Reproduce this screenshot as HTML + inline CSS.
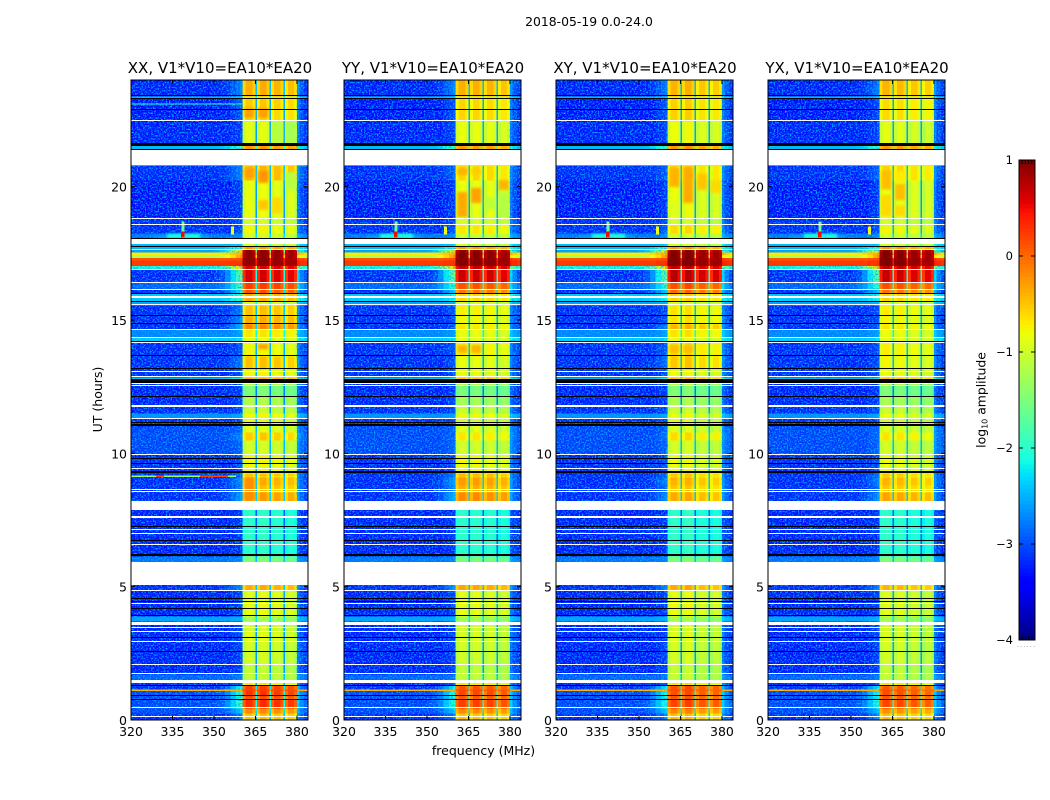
<!DOCTYPE html>
<html>
<head>
<meta charset="utf-8">
<title>2018-05-19 spectrogram</title>
<style>
html,body{margin:0;padding:0;background:#fff;}
svg{display:block;font-family:"DejaVu Sans","Liberation Sans",sans-serif;}
text{fill:#000;}
</style>
</head>
<body>
<svg id="chart" width="1050" height="800" viewBox="0 0 1050 800" xmlns="http://www.w3.org/2000/svg">
<defs>
<filter id="speckle" x="0" y="0" width="100%" height="100%" color-interpolation-filters="sRGB">
<feTurbulence type="fractalNoise" baseFrequency="0.62" numOctaves="2" seed="5"/>
<feColorMatrix type="matrix" values="0 0 0 0 0  0 0 0 0 0.7  0 0 0 0 1  3.4 0 0 0 -1.55"/>
</filter>
<filter id="soften" x="-20%" y="-20%" width="140%" height="140%" color-interpolation-filters="sRGB">
<feGaussianBlur stdDeviation="1.4"/>
</filter>
</defs>
</svg>
<script>
// ---- data ----
const panelNames = ["XX", "YY", "XY", "YX"];
const titleSuffix = ", V1*V10=EA10*EA20";
const xTicks = [320, 335, 350, 365, 380];
const yTicks = [0, 5, 10, 15, 20];
const colorTicks = [1, 0, -1, -2, -3, -4];

// frequency channels (MHz) - last entry closes the final channel
const channelEdges = [320,322,324,326,328,330,332,334,336,338,340,342,344,346,348,350,352,354,356,358,359.5,
  360.4,361.4,364,365, 365.6,366.6,369,370.1, 370.7,371.7,374,375.1, 375.7,376.7,379, 380,381,382.5,384];
// how much of the band level leaks into each channel
const channelWeight = [0,0,0,0,0,0,0,0,0,0,0,0,0,0,0,0,0,0,0.03,0.05,0.08,
  0.92,1,0.94,0.3, 0.92,1,0.94,0.3, 0.92,1,0.94,0.3, 0.92,1,0.94, 0.2,0.1,0.04];
const channelGlow = [0,0,0,0,0,0,0,0,0,0,0,0,0,0,0,0.05,0.15,0.4,0.7,0.95,1.1,
  0,0,0,0, 0,0,0,0, 0,0,0,0, 0,0,0, 0.15,0.04,0];
const channelSub = [0,0,0,0,0,0,0,0,0,0,0,0,0,0,0,0,0,0,0,0,0,
  1,1,1,0, 2,2,2,0, 3,3,3,0, 4,4,4, 0,0,0];
const subOffsetXX = [0.03, 0.05, 0, -0.05];
const subOffsetYY = [0.03, 0.03, 0, -0.08];
const subOffsetXY = [0.05, 0.08, -0.05, -0.08];
const subOffsetYX = [0.05, 0.03, -0.05, -0.1];

// time rows (UT hours, start of each row)
const rowStart = [0,.25,.45,.79,.90,1.09,1.14,1.29,1.50,1.72,
  2.10,2.55,2.96,3.30,3.71,3.90,4.35,4.84,5.94,6.15,
  8.22,8.55,8.81,9.11,9.17,9.26,9.94,10.5,10.8,11.02,
  11.33,11.51,11.81,12.11,12.53,12.79,12.86,13.16,13.65,14.18,
  14.36,14.63,14.85,15.15,15.56,15.71,15.98,16.13,16.39,16.88,
  17.03,17.25,17.33,17.44,17.53,17.63,17.74,18.04,18.26,18.56,
  18.79,20.25,20.78,21.41,21.64,22.46,22.88,23.29,23.39];
const rowEndHour = 24;
// off-band background level per row (log10 amplitude)
const rowBg = [-3.25,-3.1,-3.1,-3.1,-3.1,-.4,-3.25,-3.25,-2.95,-3.3,
  -3.3,-3.3,-3.3,-3.3,-2.6,-3.3,-3.3,-3.25,-2.85,-3.3,
  -3.25,-3.25,-3.25,-3.25,-3.25,-3.25,-3.1,-3.1,-3.1,-3.25,
  -2.7,-3.25,-3.3,-3.3,-3.25,-2.45,-3.25,-3.25,-3.25,-2.35,
  -2.75,-3.25,-3.25,-3.25,-2.6,-2.35,-3.25,-2.95,-3.25,-2.1,
  .25,.1,-1.2,-.7,-2.6,-2.45,-2.45,-2.85,-3.25,-3.25,
  -3.35,-3.25,-2.45,-2.45,-3.3,-3.35,-3.35,-2.45,-3.3];
// in-band level per row, per polarisation
const bandXX = [-.5,-.2,.3,.1,.25,.2,.2,-.7,-1.1,-1.1,
  -1,-1,-.9,-1,-1.3,-.85,-.9,-.4,-1.5,-2,
  -.3,-.5,-.4,-.6,-.5,-.8,-1,-.55,-.9,-.9,
  -.8,-1.05,-1.2,-1.5,-1.2,-.4,-.8,-.5,-.8,-.9,
  -.7,-.2,-.4,-.5,-1,-.4,.1,.2,.6,.6,
  .9,.9,.9,.9,.9,-.3,-1,-1,-.8,-1,
  -.85,-.45,-1,-.3,-.9,-.6,-.55,-1,-.4];
const bandYY = [-.5,-.2,.2,.05,.15,.15,.1,-.7,-1.1,-1.1,
  -1,-1,-.95,-1,-1.3,-.85,-.9,-.35,-1.5,-2,
  -.2,-.4,-.3,-.5,-.45,-.8,-1,-.7,-.9,-.95,
  -.8,-1.05,-1.25,-1.5,-1.2,-.5,-.85,-.85,-.75,-.9,
  -.85,-.7,-.8,-.75,-1,-.6,-.1,.1,.65,.7,
  .95,.95,.95,.95,.9,-.3,-1,-1,-.7,-.95,
  -.85,-.6,-1,-.3,-.85,-.6,-.6,-1,-.4];
const bandXY = [-.5,-.2,.15,.05,.1,.1,.1,-.7,-1.1,-1.1,
  -1,-1,-.95,-1,-1.3,-.85,-.9,-.4,-1.5,-2,
  -.4,-.55,-.45,-.6,-.55,-.85,-1,-.65,-.95,-.95,
  -.85,-1.05,-1.25,-1.5,-1.2,-.5,-.85,-.55,-.65,-.9,
  -.7,-.45,-.7,-.7,-1,-.6,-.05,.1,.7,.7,
  .95,.95,.95,.95,.9,-.3,-1,-1,-.65,-1,
  -.85,-.6,-1,-.3,-.85,-.6,-.6,-1,-.45];
const bandYX = [-.5,-.25,.15,.05,.1,.1,.05,-.7,-1.1,-1.1,
  -1,-1,-.95,-1,-1.3,-.9,-.95,-.45,-1.5,-2,
  -.35,-.55,-.45,-.6,-.55,-.85,-1,-.7,-.95,-.95,
  -.85,-1.05,-1.25,-1.5,-1.2,-.55,-.85,-.8,-.75,-.9,
  -.85,-.7,-.8,-.75,-1,-.6,-.1,.1,.65,.7,
  .95,.95,.95,.95,.9,-.3,-1,-1,-.8,-1,
  -.85,-.6,-1,-.3,-.9,-.65,-.65,-1,-.45];

// flagged (black) and missing (white) time ranges, UT hours
const flagStart = [.77,.90,1.27,2.56,3.10,3.91,4.16,4.44,4.56,6.16,6.72,7.24,9.26,9.61,9.78,11.03,11.16,12.13,12.65,13.17,13.66,14.20,14.85,15.17,15.70,15.98,17.74,18.06,21.38,21.54,22.88,23.28,23.39];
const flagEnd   = [.80,.93,1.30,2.59,3.13,3.94,4.19,4.47,4.59,6.22,6.75,7.27,9.34,9.64,9.81,11.10,11.19,12.16,12.79,13.20,13.69,14.23,14.88,15.20,15.73,16.01,17.77,18.09,21.41,21.62,22.91,23.31,23.42];
const gapStart = [.10,.45,1.40,1.72,2.07,2.95,3.32,3.46,3.56,4.37,4.86,5.06,6.57,7.00,7.15,7.58,7.87,8.56,8.62,9.40,9.96,11.29,11.73,11.79,12.53,12.62,12.86,13.05,14.16,14.34,14.62,15.57,15.83,16.13,16.38,16.90,17.63,17.85,18.57,18.79,20.81,22.48];
const gapEnd   = [.14,.48,1.50,1.75,2.10,2.98,3.35,3.49,3.69,4.40,4.89,5.94,6.60,7.03,7.18,7.64,8.22,8.59,8.65,9.45,9.99,11.32,11.76,11.82,12.56,12.65,12.89,13.08,14.19,14.38,14.65,15.60,15.90,16.16,16.43,16.93,17.66,18.05,18.60,18.82,21.38,22.51];

// local features and in-band patches: panel (-1 = every panel), frequency range, time range, level
const spotPanel = [-1,-1,-1,-1,-1,0,0,0,0,
  0,0,0,0,0,0,0,0,0,0,0,
  1,1,1,1,1,1,1,1,1,
  2,2,2,2,2,2,2,2,
  3,3,3,3,3];
const spotF0 = [328,333,338.2,338.1,356.1,320,329,345,320,
  361,366,366,371,376,371,376,361,366,366,361,
  361,361,366,366,371,376,376,361,366,
  361,366,371,376,361,361,366,371,
  361,366,361,366,366];
const spotF1 = [348,345,339.3,339.4,357.2,358,332,355,360,
  364.6,369.6,369.6,374.6,379.5,374.6,379.5,364.6,369.6,369.6,364.6,
  364.6,364.6,369.6,369.6,374.6,379.5,379.5,364.6,369.6,
  364.6,369.6,374.6,379.5,364.6,364.6,369.6,374.6,
  364.6,369.6,364.6,369.6,369.6];
const spotH0 = [18.05,18.05,18.0,18.1,18.2,9.11,9.11,9.11,23.08,
  20.33,20.14,19.13,19.0,19.9,21.64,21.64,22.58,22.58,13.9,8.25,
  18.86,20.44,19.39,20.44,19.13,19.88,18.86,13.76,13.76,
  19.99,19.39,19.88,19.76,18.9,13.76,13.76,13.76,
  19.9,19.5,18.9,20.2,18.9];
const spotH1 = [18.18,18.24,18.7,18.32,18.5,9.17,9.17,9.17,23.12,
  20.7,20.6,19.5,19.6,20.55,22.46,22.46,22.95,22.95,14.1,9.1,
  19.8,20.7,19.95,20.7,19.6,20.25,19.76,14.06,14.06,
  20.7,20.74,20.5,20.25,19.5,14.06,14.06,14.06,
  20.6,20.1,19.7,20.6,19.3];
const spotLevel = [-2.6,-2.1,-1.6,.5,-.8,-1.3,.2,.2,-2,
  -.3,-.25,-.5,-.6,-1.15,-1.15,-1.25,-.3,-.3,-.3,-.2,
  -.35,-.4,-.3,-.55,-1.1,-.4,-1.15,-.4,-.4,
  -.4,-.35,-.5,-.6,-.9,-.45,-.45,-.7,
  -.45,-.45,-.6,-.7,-.6];

const colorSteps = 120;
const colorbarMiniTicks = [0, 1, 2, 3, 4, 5];

// ---- scales ----
const NS = "http://www.w3.org/2000/svg";
const svg = document.getElementById("chart");
const panelLeft = [131, 344, 556, 768];
const panelWidth = 177;
const plotTop = 80, plotBottom = 720;
const fMin = 320, fMax = 384, hMin = 0, hMax = 24, cMin = -4, cMax = 1;
const cbLeft = 1019, cbRight = 1035, cbTop = 160, cbBottom = 640;
function xScale(p, f) { return panelLeft[p] + (f - fMin) / (fMax - fMin) * panelWidth; }
function yScale(h) { return plotBottom - (h - hMin) / (hMax - hMin) * (plotBottom - plotTop); }
function cScale(v) { return cbBottom - (v - cMin) / (cMax - cMin) * (cbBottom - cbTop); }

const jetR = [[0,0],[.35,0],[.66,1],[.89,1],[1,.5]];
const jetG = [[0,0],[.125,0],[.375,1],[.64,1],[.91,0],[1,0]];
const jetB = [[0,.5],[.11,1],[.34,1],[.65,0],[1,0]];
function lerp(tab, t) {
  for (let i = 1; i < tab.length; i++) {
    if (t <= tab[i][0]) {
      const a = tab[i-1], b = tab[i];
      return a[1] + (b[1]-a[1]) * (t-a[0]) / (b[0]-a[0]);
    }
  }
  return tab[tab.length-1][1];
}
function colorOf(v) {
  const t = Math.max(0, Math.min(1, (v - cMin) / (cMax - cMin)));
  return "rgb(" + Math.round(255*lerp(jetR,t)) + "," + Math.round(255*lerp(jetG,t)) + "," + Math.round(255*lerp(jetB,t)) + ")";
}
function shape(parent, tag, attrs) {
  const el = document.createElementNS(NS, tag);
  for (const k in attrs) el.setAttribute(k, attrs[k]);
  parent.appendChild(el);
  return el;
}

// ---- figure text ----
const figTitle = shape(svg, "text", {x: 589, y: 26, "text-anchor": "middle", "font-size": 12.4});


figTitle.textContent = "2018-05-19 0.0-24.0";

const xTitle = shape(svg, "text", {x: 483.5, y: 755, "text-anchor": "middle", "font-size": 12.5});


xTitle.textContent = "frequency (MHz)";

const yTitle = shape(svg, "text", {x: 0, y: 0, "text-anchor": "middle", "font-size": 12.5, transform: "translate(102,399.5) rotate(-90)"});


yTitle.textContent = "UT (hours)";

// ---- panels ----
const panelBands = [bandXX, bandYY, bandXY, bandYX];
const panelSubs = [subOffsetXX, subOffsetYY, subOffsetXY, subOffsetYX];

panelNames.forEach(function (name, p) {
  const L = panelLeft[p];
  const g = shape(svg, "g", {});
  
  

  const cells = shape(g, "g", {"shape-rendering": "crispEdges"});
  
  

  // speckle texture over the off-band background only
  const n1 = shape(g, "rect", {x: L, y: plotTop, width: xScale(p, 360.4) - L, height: plotBottom - plotTop, filter: "url(#speckle)"});
  
  
  const n2 = shape(g, "rect", {x: xScale(p, 380), y: plotTop, width: L + panelWidth - xScale(p, 380), height: plotBottom - plotTop, filter: "url(#speckle)"});
  
  

  const hotCells = shape(g, "g", {"shape-rendering": "crispEdges"});
  
  

  rowStart.forEach(function (h0, r) {
    const h1 = r + 1 < rowStart.length ? rowStart[r + 1] : rowEndHour;
    const yTop = yScale(h1), yBot = yScale(h0);
    const bg = rowBg[r], band = panelBands[p][r];
    const glowScale = Math.max(0, Math.min(1, (-bg - 0.5) / 1.5));
    channelWeight.forEach(function (w, c) {
      const sub = channelSub[c];
      const lvl = band + (sub ? panelSubs[p][sub - 1] : 0);
      const v = bg + w * (lvl - bg) + channelGlow[c] * Math.max(0, band + 0.7) * glowScale;
      const x0 = xScale(p, channelEdges[c]), x1 = xScale(p, channelEdges[c + 1]);
      const cell = shape(bg > -1.5 ? hotCells : cells, "rect", {x: x0.toFixed(2), y: yTop.toFixed(2), width: (x1 - x0 + 0.3).toFixed(2), height: (yBot - yTop + 0.3).toFixed(2), fill: colorOf(v)});
      
      
    });
  });

  const softGroup = shape(g, "g", {filter: "url(#soften)"});
  
  
  const over = shape(g, "g", {"shape-rendering": "crispEdges"});
  
  

  spotLevel.forEach(function (lv, s) {
    if (spotPanel[s] !== -1 && spotPanel[s] !== p) return;
    const x0 = xScale(p, spotF0[s]), x1 = xScale(p, spotF1[s]);
    const soft = spotF1[s] - spotF0[s] > 3 && spotH1[s] - spotH0[s] > 0.1;
    const sp = shape(soft ? softGroup : over, "rect", {x: x0.toFixed(2), y: yScale(spotH1[s]).toFixed(2), width: (x1 - x0).toFixed(2), height: (yScale(spotH0[s]) - yScale(spotH1[s])).toFixed(2), fill: colorOf(lv)});
    
    
  });

  gapStart.forEach(function (h0, i) {
    const yT = Math.round(yScale(gapEnd[i])), yB = Math.round(yScale(h0));
    const gap = shape(over, "rect", {x: L, y: yT, width: panelWidth, height: Math.max(1, yB - yT), fill: "#fff"});
    
    
  });
  flagStart.forEach(function (h0, i) {
    const yT = Math.round(yScale(flagEnd[i])), yB = Math.round(yScale(h0));
    const fl = shape(over, "rect", {x: L, y: yT, width: panelWidth, height: Math.max(1, yB - yT), fill: "#000"});
    
    
  });

  // spine
  const spine = shape(g, "rect", {x: L, y: plotTop, width: panelWidth, height: plotBottom - plotTop, fill: "none", stroke: "#000", "stroke-width": 1});
  
  

  // title
  const t = shape(g, "text", {x: L + panelWidth / 2 + 0.5, y: 73, "text-anchor": "middle", "font-size": 15});
  
  
  t.textContent = name + titleSuffix;

  // ticks
  xTicks.forEach(function (f) {
    const x = xScale(p, f);
    const tb = shape(g, "line", {x1: x, x2: x, y1: plotBottom, y2: plotBottom - 4, stroke: "#000", "stroke-width": 1});
    
    
    const tt = shape(g, "line", {x1: x, x2: x, y1: plotTop, y2: plotTop + 4, stroke: "#000", "stroke-width": 1});
    
    
    const lb = shape(g, "text", {x: x, y: 736, "text-anchor": "middle", "font-size": 12.5});
    
    
    lb.textContent = String(f);
  });
  yTicks.forEach(function (h) {
    const y = yScale(h);
    const tl = shape(g, "line", {x1: L, x2: L + 4, y1: y, y2: y, stroke: "#000", "stroke-width": 1});
    
    
    const tr = shape(g, "line", {x1: L + panelWidth, x2: L + panelWidth - 4, y1: y, y2: y, stroke: "#000", "stroke-width": 1});
    
    
    const lb = shape(g, "text", {x: L - 4, y: y + 5, "text-anchor": "end", "font-size": 12.5});
    
    
    lb.textContent = String(h);
  });
});

// ---- colorbar ----
const cb = shape(svg, "g", {});


const cbRamp = shape(cb, "g", {"shape-rendering": "crispEdges"});


for (let i = 0; i < colorSteps; i++) {
  const v0 = cMin + (cMax - cMin) * i / colorSteps;
  const v1 = cMin + (cMax - cMin) * (i + 1) / colorSteps;
  const seg = shape(cbRamp, "rect", {x: cbLeft, y: cScale(v1).toFixed(2), width: cbRight - cbLeft, height: (cScale(v0) - cScale(v1) + 0.5).toFixed(2), fill: colorOf((v0 + v1) / 2)});
  
  
}
const cbFrame = shape(cb, "rect", {x: cbLeft, y: cbTop, width: cbRight - cbLeft, height: cbBottom - cbTop, fill: "none", stroke: "#000", "stroke-width": 1});


colorTicks.forEach(function (v) {
  const y = cScale(v);
  const a = shape(cb, "line", {x1: cbLeft, x2: cbLeft + 4, y1: y, y2: y, stroke: "#000", "stroke-width": 1});
  
  
  const b = shape(cb, "line", {x1: cbRight, x2: cbRight - 4, y1: y, y2: y, stroke: "#000", "stroke-width": 1});
  
  
  const lb = shape(cb, "text", {x: 1013, y: y + 4, "text-anchor": "end", "font-size": 11.5});
  
  
  lb.textContent = v < 0 ? "\u2212" + Math.abs(v) : String(v);
});
colorbarMiniTicks.forEach(function (k) {
  const x = cbLeft + (cbRight - cbLeft) * k / (colorbarMiniTicks.length - 1);
  const a = shape(cb, "line", {x1: x, x2: x, y1: cbTop, y2: cbTop + 4, stroke: "#000", "stroke-width": 1});
  
  
  const b = shape(cb, "line", {x1: x, x2: x, y1: cbBottom, y2: cbBottom - 4, stroke: "#000", "stroke-width": 1});
  
  
});
const cbDots = shape(cb, "text", {x: 1017, y: 647, "font-size": 6, "letter-spacing": 1.3, style: "fill:#777"});


cbDots.textContent = "......";

const cbTitle = shape(cb, "text", {x: 0, y: 0, "text-anchor": "middle", "font-size": 12.4, transform: "translate(985.5,400) rotate(-90)"});


cbTitle.appendChild(document.createTextNode("log"));
const cbSub = shape(cbTitle, "tspan", {"font-size": 8, dy: 2});


cbSub.textContent = "10";
const cbRest = shape(cbTitle, "tspan", {dy: -2});


cbRest.textContent = " amplitude";
</script>
</body>
</html>
